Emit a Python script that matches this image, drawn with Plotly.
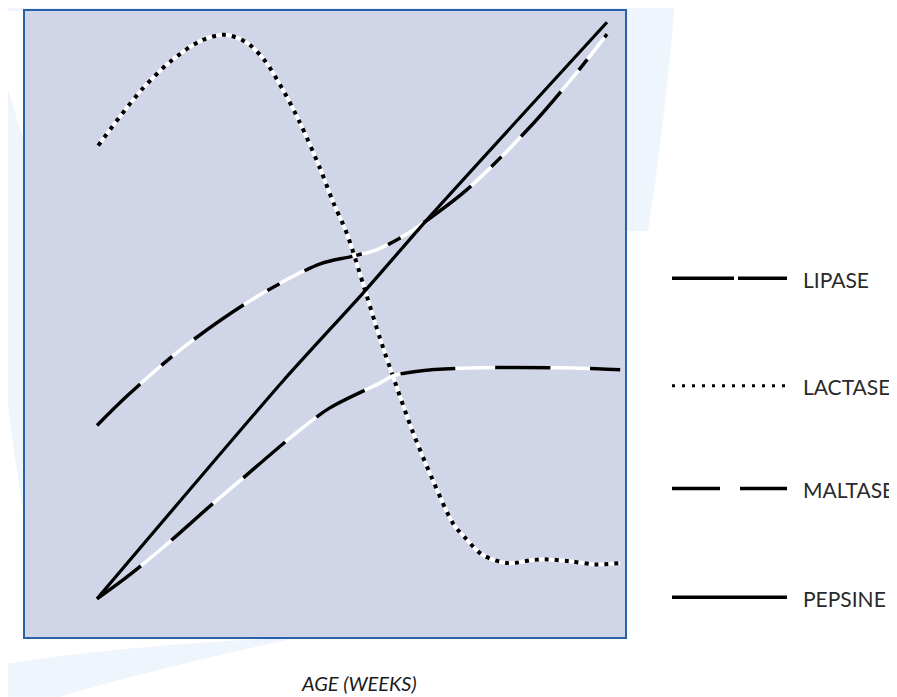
import plotly.graph_objects as go

# enzyme activity curves (x: age, y: activity, arbitrary units 0-100)
lipase_x = [12, 17, 26.3, 38, 49.2, 54.5, 58.7, 63, 67.2, 73.7, 84.2, 92.5, 97]
lipase_y = [33.8, 38.5, 46.2, 54, 59.6, 60.8, 61.9, 64, 66.7, 71.5, 81.5, 90.8, 96.3]

lactase_x = [12.2, 15.8, 19.7, 24.2, 29.2, 33.2, 36.7, 39.7, 43, 45.8, 49.2, 51.3, 53.7, 56.7,
             59.2, 61.2, 64.7, 68, 71.3, 73.3, 76.3, 80.5, 84.7, 87, 90.8, 95, 99.2]
lactase_y = [78.5, 83.1, 87.7, 91.9, 95.2, 96.2, 95.1, 92.4, 87.4, 82.2, 74.8, 69.6, 64.3, 55.3,
             47.6, 42.0, 32.6, 25.0, 18.2, 15.9, 13.1, 11.8, 12.3, 12.4, 12.1, 11.6, 11.8]

maltase_x = [12, 17, 23, 31.3, 35.5, 44.7, 50.8, 59.2, 61.3, 65.8, 75.8, 89.7, 99.2]
maltase_y = [6.1, 9.6, 14.3, 21.3, 24.7, 32.2, 36.6, 40.6, 41.7, 42.5, 43, 43, 42.7]

pepsine_x = [12, 43, 56.3, 67.5, 97]
pepsine_y = [6.1, 40.9, 54.9, 67.2, 98.2]

series_names = ["LIPASE", "LACTASE", "MALTASE", "PEPSINE"]
x_title = "AGE (WEEKS)"

W, H = 897, 697
OFF = 8  # the page body margin shifts the figure by 8px
L, R, T, B = 25, 625, 9, 637  # plot area in picture pixels


def px(x):
    return (x - L) / (R - L)


def py(y):
    return (B - y) / (B - T)


series = [
    (lipase_x, lipase_y, "60px,28px,14px,28px", 3.5, 0.9),
    (lactase_x, lactase_y, "4px,6px", 4, 0.9),
    (maltase_x, maltase_y, "55px,40px", 3.5, 0.9),
    (pepsine_x, pepsine_y, "solid", 3.2, 0.6),
]

fig = go.Figure()
for (xs, ys, dash, w, sm), name in zip(series, series_names):
    if dash != "solid":
        # white under-stroke so the gaps show white
        fig.add_trace(go.Scatter(
            x=xs, y=ys, mode="lines", hoverinfo="skip", showlegend=False,
            line=dict(color="#ffffff", width=w, shape="spline", smoothing=sm),
        ))
    fig.add_trace(go.Scatter(
        x=xs, y=ys, mode="lines", name=name, showlegend=False,
        line=dict(color="#000000", width=w, dash=dash, shape="spline", smoothing=sm),
    ))

# faint background swooshes
deco = "#EEF5FC"
shapes = [
    dict(type="path", xref="paper", yref="paper", layer="below", fillcolor=deco, line_width=0,
         path=f"M {px(625)} {py(0)} L {px(675)} {py(0)} Q {px(665)} {py(120)} {px(648)} {py(230)} "
              f"L {px(625)} {py(230)} Z"),
    dict(type="path", xref="paper", yref="paper", layer="below", fillcolor=deco, line_width=0,
         path=f"M {px(0)} {py(60)} Q {px(20)} {py(130)} {px(25)} {py(140)} L {px(25)} {py(520)} "
              f"Q {px(8)} {py(420)} {px(0)} {py(330)} Z"),
    dict(type="path", xref="paper", yref="paper", layer="below", fillcolor=deco, line_width=0,
         path=f"M {px(0)} {py(697)} L {px(0)} {py(665)} Q {px(120)} {py(645)} {px(300)} {py(637)} "
              f"Q {px(150)} {py(670)} {px(60)} {py(697)} Z"),
    dict(type="path", xref="paper", yref="paper", layer="below", fillcolor=deco, line_width=0,
         path=f"M {px(0)} {py(0)} L {px(640)} {py(0)} L {px(640)} {py(9)} L {px(0)} {py(9)} Z"),
]

# legend rows drawn by hand
legend_rows = [
    (277, "62px,4px", 3.5),
    (385, "3px,7px", 3),
    (488, "48px,20px", 3.5),
    (597, "solid", 3.5),
]
annotations = []
for (y, dash, w), name in zip(legend_rows, series_names):
    shapes.append(dict(type="line", xref="paper", yref="paper",
                       x0=px(672), x1=px(787), y0=py(y), y1=py(y),
                       line=dict(color="#000000", width=w, dash=dash)))
    annotations.append(dict(xref="paper", yref="paper", x=px(801), y=py(y + 1),
                            xanchor="left", yanchor="middle", showarrow=False, text=name,
                            font=dict(family="Lato", size=21, color="#2a2a2a")))

annotations.append(dict(xref="paper", yref="paper", x=px(359), y=py(683),
                        xanchor="center", yanchor="middle", showarrow=False,
                        text=f"<i>{x_title}</i>",
                        font=dict(family="Lato", size=20, color="#1a1a1a")))

fig.update_layout(
    width=W, height=H,
    margin=dict(l=L - OFF, r=W - (R - OFF), t=T - OFF, b=H - (B - OFF)),
    paper_bgcolor="#ffffff",
    plot_bgcolor="#D0D5E8",
    showlegend=False,
    shapes=shapes,
    annotations=annotations,
    xaxis=dict(range=[0, 100], showgrid=False, zeroline=False, showticklabels=False, ticks="",
               showline=True, mirror=True, linecolor="#2A62A8", linewidth=2),
    yaxis=dict(range=[0, 100], showgrid=False, zeroline=False, showticklabels=False, ticks="",
               showline=True, mirror=True, linecolor="#2A62A8", linewidth=2),
)

fig.write_html("out.html")
